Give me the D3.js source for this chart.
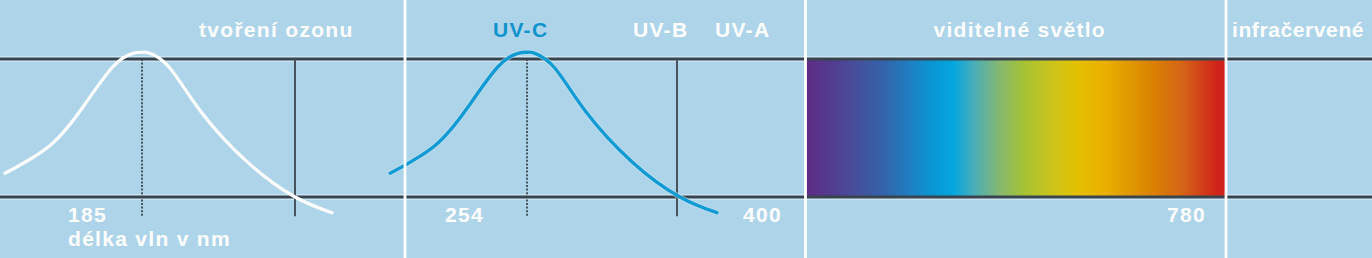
<!DOCTYPE html>
<html><head><meta charset="utf-8">
<script src="https://cdn.jsdelivr.net/npm/d3@7"></script>
<style>html,body{margin:0;padding:0;background:#aed4ea;}svg{display:block;}</style>
</head><body>
<svg id="chart" width="1372" height="258"></svg>
<script>
// ---- data ----
const panelTitles = ["tvoření ozonu", "UV-C", "UV-B", "UV-A", "viditelné světlo", "infračervené"];
const peakWavelengths = [185, 254];          // nm, dotted markers
const boundaryWavelengths = [240, 280];      // nm, solid markers
const curveSpanNm = [55, 26.5];              // nm covered by one unit of the curve shape
const tickLabels = ["185", "254", "400", "780"];
const axisLabel = "délka vln v nm";
// relative curve shape: u = (λ - peak)/span, intensity (1 = upper line, 0 = lower line)
const curveU = [-0.895, -0.601, -0.386, -0.190, -0.059, 0, 0.052, 0.183, 0.379, 0.686, 1.0, 1.242];
const curveI = [0.172, 0.373, 0.652, 0.944, 1.041, 1.049, 1.041, 0.933, 0.627, 0.256, 0.0, -0.114];
const spectrumStops = [0, 0.09, 0.18, 0.25, 0.30, 0.35, 0.40, 0.46, 0.52, 0.59, 0.65, 0.71, 0.77, 0.82, 0.90, 0.98, 1];
const spectrumColors = ["#5e2a84", "#4e4696", "#3462a8", "#1e80c2", "#0a96d4", "#04a6df", "#4aaeba", "#84b870", "#a6c234", "#cec41a", "#e4c000", "#eab000", "#e09a00", "#da8400", "#d46418", "#d0241a", "#d0201a"];

// ---- layout ----
const W = 1372, H = 258;
const seps = [405, 805.5, 1226];
const svg = d3.select("#chart");
const fontFam = "'Liberation Sans', Arial, sans-serif";

svg.append("rect").attr("width", W).attr("height", H).attr("fill", "#aed4ea");

const y = d3.scaleLinear().domain([0, 1]).range([197, 59]);
const xs = [
  d3.scaleLinear().domain([peakWavelengths[0], boundaryWavelengths[0]]).range([142, 295]),
  d3.scaleLinear().domain([peakWavelengths[1], boundaryWavelengths[1]]).range([527, 677])
];
const curveColors = ["#ffffff", "#129ad2"];

// pale halos of the reference lines
[0, 1].forEach(v => {
  svg.append("line").attr("x1", 0).attr("x2", W).attr("y1", y(v)).attr("y2", y(v))
    .attr("stroke", "#d2eaf8").attr("stroke-width", 5.5);
});

// spectrum gradient
const defs = svg.append("defs");
const grad = defs.append("linearGradient").attr("id", "spec").attr("x1", "0").attr("x2", "1").attr("y1", "0").attr("y2", "0");
grad.selectAll("stop").data(spectrumStops).join("stop")
  .attr("offset", d => d).attr("stop-color", (d, i) => spectrumColors[i]);
const specX = d3.scaleLinear().domain([0, 1]).range([806.5, 1225]);
svg.append("rect").attr("x", specX(0)).attr("width", specX(1) - specX(0))
  .attr("y", y(1)).attr("height", y(0) - y(1)).attr("fill", "url(#spec)");

// dark reference lines
[0, 1].forEach(v => {
  svg.append("line").attr("x1", 0).attr("x2", W).attr("y1", y(v)).attr("y2", y(v))
    .attr("stroke", "#38444e").attr("stroke-width", 2.8);
});

// markers
xs.forEach((xsc, i) => {
  svg.append("line").attr("x1", xsc(peakWavelengths[i])).attr("x2", xsc(peakWavelengths[i]))
    .attr("y1", y(1)).attr("y2", y(-0.14))
    .attr("stroke", "#3c4852").attr("stroke-width", 1.8).attr("stroke-dasharray", "2,1.6");
  svg.append("line").attr("x1", xsc(boundaryWavelengths[i])).attr("x2", xsc(boundaryWavelengths[i]))
    .attr("y1", y(1)).attr("y2", y(-0.14))
    .attr("stroke", "#46525c").attr("stroke-width", 2);
});

// curves
const pts = curveU.map((u, i) => ({u, v: curveI[i]}));
xs.forEach((xsc, i) => {
  const line = d3.line()
    .x(d => xsc(peakWavelengths[i] + d.u * curveSpanNm[i]))
    .y(d => y(d.v))
    .curve(d3.curveNatural);
  if (i === 1) {
    svg.append("path").datum(pts).attr("d", line).attr("fill", "none")
      .attr("stroke", "#c8e6f6").attr("stroke-width", 5).attr("stroke-linecap", "round").attr("opacity", 0.6);
  }
  svg.append("path").datum(pts).attr("d", line).attr("fill", "none")
    .attr("stroke", curveColors[i]).attr("stroke-width", i === 0 ? 3.2 : 3.4).attr("stroke-linecap", "round");
});

// separators
svg.selectAll("line.sep").data(seps).join("line").attr("class", "sep")
  .attr("x1", d => d).attr("x2", d => d).attr("y1", 0).attr("y2", H)
  .attr("stroke", "#ffffff").attr("stroke-width", 2.8);

// text
function txt(s, x, yy, anchor, color, ls) {
  svg.append("text").text(s).attr("x", x).attr("y", yy).attr("text-anchor", anchor)
    .attr("fill", color || "#ffffff").attr("font-family", fontFam).attr("font-weight", "bold")
    .attr("font-size", 21).attr("letter-spacing", (ls == null ? 1.3 : ls) + "px");
}
txt(panelTitles[0], 199, 37, "start");
txt(panelTitles[1], 493, 37, "start", "#0f93cc");
txt(panelTitles[2], 633, 37, "start");
txt(panelTitles[3], 715, 37, "start");
txt(panelTitles[4], (seps[1] + seps[2]) / 2 + 4, 37, "middle");
txt(panelTitles[5], 1232, 37, "start", null, 0.6);

txt(tickLabels[0], 68, 222, "start");
txt(tickLabels[1], 445, 222, "start");
txt(tickLabels[2], 743, 222, "start");
txt(tickLabels[3], 1167, 222, "start");
txt(axisLabel, 68, 246, "start");
</script>
</body></html>
